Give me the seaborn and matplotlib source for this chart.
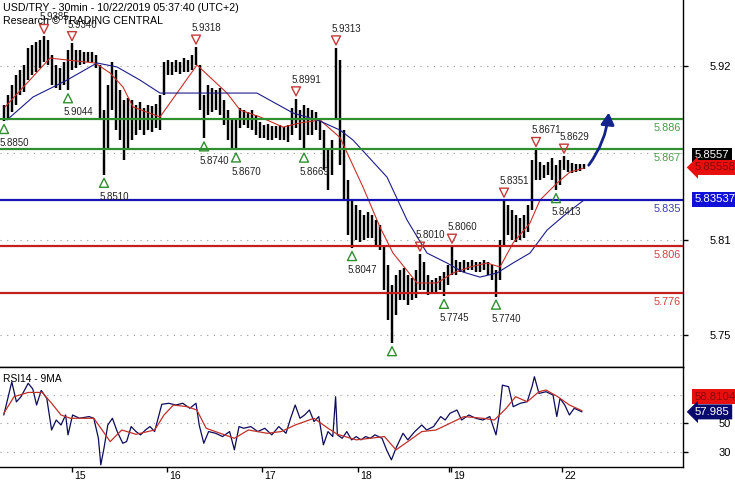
"""USD/TRY 30min bar chart with Trading Central levels and an RSI panel."""

import matplotlib

matplotlib.use("Agg")
import matplotlib.pyplot as plt
import matplotlib.transforms as mtransforms
from matplotlib.patches import FancyArrowPatch
import numpy as np
import seaborn as sns

# ---- price bars (one bar every two 30-min periods) ----
bar_high = [
    5.8950, 5.9014, 5.9077, 5.9140, 5.9172, 5.9203, 5.9311, 5.9330, 5.9349, 5.9361,
    5.9385, 5.9361, 5.9266, 5.9203, 5.9184, 5.9222, 5.9298, 5.9340, 5.9298, 5.9298,
    5.9285, 5.9285, 5.9285, 5.9266, 5.9203, 5.8919, 5.9077, 5.9222, 5.9172, 5.9045,
    5.8982, 5.8995, 5.8982, 5.8950, 5.8969, 5.8931, 5.8950, 5.8944, 5.8957, 5.9014,
    5.9222, 5.9235, 5.9222, 5.9235, 5.9222, 5.9247, 5.9235, 5.9266, 5.9318, 5.9203,
    5.9014, 5.9077, 5.9058, 5.9045, 5.9058, 5.8982, 5.8919, 5.8868, 5.8856, 5.8931,
    5.8919, 5.8906, 5.8919, 5.8887, 5.8843, 5.8824, 5.8830, 5.8818, 5.8818, 5.8824,
    5.8811, 5.8824, 5.8931, 5.8991, 5.8919, 5.8950, 5.8931, 5.8919, 5.8906, 5.8868,
    5.8792, 5.8666, 5.8729, 5.9313, 5.9235, 5.8792, 5.8476, 5.8350, 5.8318, 5.8287,
    5.8255, 5.8274, 5.8255, 5.8224, 5.8192, 5.8066, 5.7939, 5.7813, 5.7876, 5.7908,
    5.7920, 5.7876, 5.7857, 5.7908, 5.8010, 5.7958, 5.7876, 5.7844, 5.7857, 5.7870,
    5.7895, 5.7939, 5.8060, 5.7971, 5.7958, 5.7971, 5.7958, 5.7971, 5.7958, 5.7958,
    5.7971, 5.7958, 5.7939, 5.7908, 5.8097, 5.8351, 5.8318, 5.8287, 5.8255, 5.8236,
    5.8255, 5.8318, 5.8603, 5.8671, 5.8590, 5.8571, 5.8590, 5.8615, 5.8571, 5.8603,
    5.8629, 5.8603, 5.8584, 5.8578, 5.8578, 5.8578,
]
bar_low = [
    5.8850, 5.8868, 5.8906, 5.8950, 5.9014, 5.9033, 5.9108, 5.9140, 5.9159, 5.9184,
    5.9222, 5.9203, 5.9077, 5.9058, 5.9045, 5.9077, 5.9044, 5.9172, 5.9184, 5.9203,
    5.9210, 5.9222, 5.9222, 5.9184, 5.8856, 5.8510, 5.8666, 5.8919, 5.8792, 5.8729,
    5.8603, 5.8666, 5.8729, 5.8761, 5.8792, 5.8761, 5.8792, 5.8780, 5.8805, 5.8792,
    5.9014, 5.9140, 5.9140, 5.9159, 5.9146, 5.9159, 5.9159, 5.9172, 5.9203, 5.8919,
    5.8740, 5.8887, 5.8906, 5.8919, 5.8887, 5.8824, 5.8729, 5.8679, 5.8670, 5.8805,
    5.8824, 5.8805, 5.8792, 5.8761, 5.8742, 5.8742, 5.8729, 5.8729, 5.8742, 5.8729,
    5.8729, 5.8717, 5.8761, 5.8805, 5.8729, 5.8669, 5.8761, 5.8761, 5.8792, 5.8729,
    5.8540, 5.8413, 5.8508, 5.8856, 5.8571, 5.8350, 5.8129, 5.8047, 5.8097, 5.8085,
    5.8097, 5.8110, 5.8110, 5.8066, 5.8034, 5.7781, 5.7592, 5.7446, 5.7623, 5.7718,
    5.7718, 5.7686, 5.7718, 5.7731, 5.7781, 5.7781, 5.7750, 5.7756, 5.7769, 5.7781,
    5.7745, 5.7813, 5.7876, 5.7876, 5.7895, 5.7895, 5.7908, 5.7908, 5.7895, 5.7895,
    5.7908, 5.7876, 5.7844, 5.7740, 5.7844, 5.8066, 5.8129, 5.8097, 5.8085, 5.8097,
    5.8110, 5.8148, 5.8287, 5.8476, 5.8476, 5.8489, 5.8508, 5.8476, 5.8413, 5.8445,
    5.8540, 5.8527, 5.8521, 5.8527, 5.8533, 5.8546,
]
bar_time = np.arange(1, len(bar_high) + 1) * 2  # in 30-min periods

# ---- moving averages ----
ma_fast_time = [2.5, 13.5, 25, 33.5, 47.5, 55, 61.5, 66.5, 80, 98.5, 113.5, 120, 130, 141.5, 150, 160,
                170, 181.5, 190, 196.5, 208.5, 218.5, 226.5, 235, 243.5, 250, 256.5, 265, 270, 278.5, 285, 292]
ma_fast = [5.8938, 5.9089, 5.9247, 5.9235, 5.9216, 5.9153, 5.9064, 5.8938, 5.8875, 5.9203, 5.9026, 5.8919,
           5.8875, 5.8811, 5.8837, 5.8856, 5.8745, 5.8432, 5.8179, 5.8015, 5.7826, 5.7826, 5.7889, 5.7927,
           5.7952, 5.7927, 5.8078, 5.8205, 5.8350, 5.8457, 5.8527, 5.8552]
ma_slow_time = [3.5, 16.5, 33.5, 48.5, 58.5, 70, 80, 100, 128.5, 146.5, 160, 170, 176.5, 193.5, 203.5,
                213.5, 223.5, 231.5, 240, 248.5, 256.5, 265, 273.5, 283.5, 292]
ma_slow = [5.8856, 5.9001, 5.9108, 5.9216, 5.9191, 5.9108, 5.9026, 5.9026, 5.9026, 5.8900, 5.8849, 5.8792,
           5.8729, 5.8495, 5.8224, 5.8015, 5.7952, 5.7895, 5.7863, 5.7889, 5.7952, 5.8015, 5.8160, 5.8268,
           5.8350]

# ---- key levels ----
level_values = [5.886, 5.867, 5.835, 5.806, 5.776]
level_colors = ["#2f8f2f", "#2f8f2f", "#1414b4", "#c41f1f", "#c41f1f"]
level_text_colors = ["#4a9a4a", "#4a9a4a", "#3a3ab0", "#d04040", "#d04040"]

# ---- swing highs / lows ----
pivot_high_time = [22, 36, 98, 148, 168, 210, 226, 252, 268, 282]
pivot_high_price = [5.9385, 5.9340, 5.9318, 5.8991, 5.9313, 5.8010, 5.8060, 5.8351, 5.8671, 5.8629]
pivot_low_time = [2, 34, 52, 102, 118, 152, 176, 222, 248, 278]
pivot_low_price = [5.8850, 5.9044, 5.8510, 5.8740, 5.8670, 5.8669, 5.8047, 5.7745, 5.7740, 5.8413]
extreme_low_time = [196]
extreme_low_price = [5.7446]

last_bid = 5.8557
last_close = 5.85558
level_pivot = 5.83537
forecast_target = 5.892
forecast_span = 11

# ---- RSI panel ----
rsi_time = [1.9, 5.9, 8.2, 10.5, 14.1, 16.4, 18.3, 20.6, 23.4, 25.8, 28.1, 30.5, 32.8, 34, 36.3, 39.8, 44.5,
            46.9, 49.2, 50.4, 52, 53.9, 56.2, 58.6, 61.4, 63.3, 65.6, 68, 70.3, 72.7, 75, 77.3, 80.9, 84.4,
            87.9, 91.4, 94.9, 98, 99.6, 101.9, 104.3, 107.8, 111.3, 114.8, 117.2, 119.5, 121.9, 125.4, 128.9,
            132.4, 135.9, 139.4, 143, 145.3, 147.6, 150, 152.3, 154.7, 157, 159.4, 161.7, 164, 166.4, 167.8,
            168.7, 171.1, 173.4, 175.8, 178.1, 180.5, 182.8, 185.1, 187.5, 191, 193.3, 195.7, 198, 201.5,
            203.9, 207.4, 210.9, 213.3, 216.8, 220.3, 222.6, 225, 228.5, 230.8, 234.4, 237.9, 241.4, 244.9,
            248, 249.6, 251.2, 254.3, 256.6, 260.1, 263.6, 266, 267.2, 269.5, 273, 276.5, 278.4, 280, 282.4,
            284.7, 287.1, 291]
rsi = [55.8, 79, 65, 68.6, 78, 74, 62.8, 73, 67.4, 45.3, 52.3, 48.8, 55.8, 41.9, 55.8, 53.5, 54.7,
       53.5, 39.5, 20.9, 32.6, 48.8, 53.5, 44.2, 36, 37.2, 47.7, 44.2, 41.9, 45.3, 47.7, 44.2, 63.3, 64,
       62.8, 64, 60.5, 64, 48.8, 36, 44.2, 43, 40.7, 44.2, 31.4, 47.7, 46.5, 47.7, 44.2,
       46.5, 41.9, 47.7, 43, 53.5, 62.8, 53.5, 55.8, 59.3, 51.2, 54.7, 34.9, 44.2, 40.7, 68.6,
       41.9, 39.5, 44.2, 38.4, 40.7, 38.4, 40.7, 39.5, 41.9, 39.5, 31.4, 24.4, 32.6, 43,
       38.4, 44.2, 48.8, 45.3, 47.7, 54.7, 52.3, 57, 59.3, 52.3, 55.8, 53.5, 52.3, 54.7,
       41.9, 55.8, 76.7, 75.6, 61.6, 64, 65.1, 75.6, 82.6, 70.9, 72.1, 69.8, 54.7, 67.4, 62.8,
       55.8, 60.5, 57.985]
rsi_ma_time = [1.9, 7, 14.1, 21.1, 25.8, 30.5, 35.2, 46.9, 51.6, 55.1, 60.9, 68, 77.3, 82, 86.7, 93.7, 98.4,
               103.1, 110.1, 117.2, 124.2, 133.6, 140.6, 147.6, 157, 164, 168.7, 178.1, 185.1, 192.2, 198,
               203.9, 210.9, 218, 225, 232, 241.4, 247.2, 253.1, 257.8, 263.6, 269.5, 273, 278.9, 284.7, 291]
rsi_ma = [57, 68.6, 71.6, 71.6, 64, 55.8, 53.5, 53.5, 44.2, 37.2, 45.3, 42.3, 45.3, 55.8, 62.8, 61.6, 59.3,
          46.5, 43, 39.5, 45.3, 43, 44.2, 48.8, 53.5, 46.5, 42.3, 38.4, 39.5, 40.7, 31.4,
          37.2, 44.2, 45.3, 50, 54.7, 53.5, 52.3, 60.5, 68.6, 65.1, 72.1, 73.3, 68.6, 62.8, 58.8104]

day_ticks = [36, 83.5, 131, 179, 225.5, 281]
day_labels = ["15", "16", "17", "18", "19", "22"]

# ---- figure ----
sns.set_style("white")
plt.rcParams["font.family"] = ["Liberation Sans", "DejaVu Sans"]

fig = plt.figure(figsize=(7.35, 4.8), dpi=100)
ax = fig.add_axes([0.0, 1 - 367 / 480, 683 / 735, 367 / 480])
ax_rsi = fig.add_axes([0.0, 1 - 467 / 480, 683 / 735, 100 / 480], sharex=ax)

ax.set_xlim(0, 341.5)
ax.set_ylim(5.7295, 5.9614)
ax_rsi.set_ylim(19.4, 89.4)

for a in (ax, ax_rsi):
    a.spines["left"].set_visible(False)
    for s in ("right", "bottom", "top"):
        a.spines[s].set_color("black")
        a.spines[s].set_linewidth(1)
ax.spines["top"].set_visible(False)

grid_kw = dict(color="#9a9a9a", linewidth=0.8, linestyle=(0, (1, 5)), zorder=1)
for g in (5.92, 5.865, 5.81, 5.75):
    ax.axhline(g, **grid_kw)
for g in (70, 50, 30):
    ax_rsi.axhline(g, **grid_kw)

# price bars
ax.vlines(bar_time, bar_low, bar_high, color="black", linewidth=1.75, zorder=2)

sns.lineplot(x=ma_fast_time, y=ma_fast, ax=ax, color="#c8302a", linewidth=0.8,
             sort=False, estimator=None, legend=False, zorder=3)
sns.lineplot(x=ma_slow_time, y=ma_slow, ax=ax, color="#1c1c8a", linewidth=0.8,
             sort=False, estimator=None, legend=False, zorder=3)

yaxis_tf = ax.get_yaxis_transform()
for val, col, tcol in zip(level_values, level_colors, level_text_colors):
    ax.axhline(val, color=col, linewidth=1.6, zorder=4)
    ax.annotate(f"{val:.3f}", xy=(1, val), xycoords=yaxis_tf, xytext=(-1.5, -6.3),
                textcoords="offset points", ha="right", va="center", fontsize=7.8, color=tcol)

# swing markers
up_tf = mtransforms.offset_copy(ax.transData, fig=fig, x=0, y=-5.8, units="points")
down_tf = mtransforms.offset_copy(ax.transData, fig=fig, x=0, y=5.2, units="points")
ax.scatter(pivot_high_time, pivot_high_price, marker="v", s=42, facecolors="none",
           edgecolors="#c43a3a", linewidths=1.0, transform=down_tf, zorder=6)
ax.scatter(pivot_low_time + extreme_low_time, pivot_low_price + extreme_low_price, marker="^", s=42,
           facecolors="none", edgecolors="#2f8f2f", linewidths=1.0, transform=up_tf, zorder=6)
for t, p in zip(pivot_high_time, pivot_high_price):
    ax.annotate(f"{p:.4f}", xy=(t, p), xytext=(-3.5, 13.5), textcoords="offset points",
                ha="left", va="center", fontsize=7, color="#222222", zorder=7)
for t, p in zip(pivot_low_time, pivot_low_price):
    ax.annotate(f"{p:.4f}", xy=(t, p), xytext=(-3.0, -16), textcoords="offset points",
                ha="left", va="center", fontsize=7, color="#222222", zorder=7)

# forecast arrow
arrow = FancyArrowPatch((bar_time[-1] + 1.5, last_close), (bar_time[-1] + 1.5 + forecast_span, forecast_target),
                        connectionstyle="arc3,rad=0.15", arrowstyle="-|>,head_length=7,head_width=4",
                        color="#14238c", linewidth=2, zorder=8, clip_on=False)
ax.add_patch(arrow)

# right axis
ax.yaxis.tick_right()
ax.set_yticks([5.92, 5.81, 5.75], labels=["5.92", "5.81", "5.75"])
ax.tick_params(axis="y", direction="out", length=3.6, width=1, pad=31, labelsize=8, colors="black")
for lbl in ax.get_yticklabels():
    lbl.set_ha("right")
ax.tick_params(axis="x", bottom=False, labelbottom=False)
ax.set_xlabel("")
ax.set_ylabel("")


def side_label(axis, value, text, fc, tc, dy=0.0, style="square"):
    axis.annotate(text, xy=(1, value), xycoords=axis.get_yaxis_transform(), xytext=(8.6, dy),
                  textcoords="offset points", ha="left", va="center", fontsize=8.2, color=tc,
                  bbox=dict(boxstyle=f"{style},pad=0.22", fc=fc, ec="none"),
                  annotation_clip=False, zorder=10)


side_label(ax, last_bid, f"{last_bid}", "black", "white", dy=8.5)
side_label(ax, last_close, f"{last_close}", "#e80f0f", "#8a0a0a", style="larrow")
side_label(ax, level_pivot, f"{level_pivot}", "#1010d8", "white")

# RSI panel
sns.lineplot(x=rsi_time, y=rsi, ax=ax_rsi, color="#0c0c5a", linewidth=0.9,
             sort=False, estimator=None, legend=False, zorder=3)
sns.lineplot(x=rsi_ma_time, y=rsi_ma, ax=ax_rsi, color="#c0302a", linewidth=0.9,
             sort=False, estimator=None, legend=False, zorder=4)
ax_rsi.yaxis.tick_right()
ax_rsi.set_yticks([30, 50], labels=["30", "50"])
ax_rsi.tick_params(axis="y", direction="out", length=3.6, width=1, pad=31, labelsize=8, colors="black")
for lbl in ax_rsi.get_yticklabels():
    lbl.set_ha("right")
side_label(ax_rsi, rsi_ma[-1], f"{rsi_ma[-1]}", "#e80f0f", "#8a0a0a", dy=10)
side_label(ax_rsi, rsi[-1], f"{rsi[-1]}", "#0a0a6e", "white", style="larrow")
ax_rsi.text(0.004, 0.93, "RSI14 - 9MA", transform=ax_rsi.transAxes, fontsize=7.4,
            ha="left", va="top", color="black")

ax_rsi.set_xticks(day_ticks, labels=day_labels)
ax_rsi.set_xticks([224.5], minor=True)
ax_rsi.tick_params(axis="x", which="both", direction="out", length=3.6, width=1, pad=-1,
                   labelsize=7.5, bottom=True, colors="black")
shift = mtransforms.ScaledTranslation(2.5 / 100, 0, fig.dpi_scale_trans)
for lbl in ax_rsi.get_xticklabels():
    lbl.set_ha("left")
    lbl.set_transform(lbl.get_transform() + shift)
ax_rsi.set_xlabel("")
ax_rsi.set_ylabel("")

fig.text(3 / 735, 1 - 8 / 480, "USD/TRY - 30min - 10/22/2019 05:37:40 (UTC+2)", fontsize=7.7,
         ha="left", va="center", color="black")
fig.text(3 / 735, 1 - 21 / 480, "Research \u00a9 TRADING CENTRAL", fontsize=7.7,
         ha="left", va="center", color="black")

fig.savefig("out.png", dpi=100, facecolor="white")
